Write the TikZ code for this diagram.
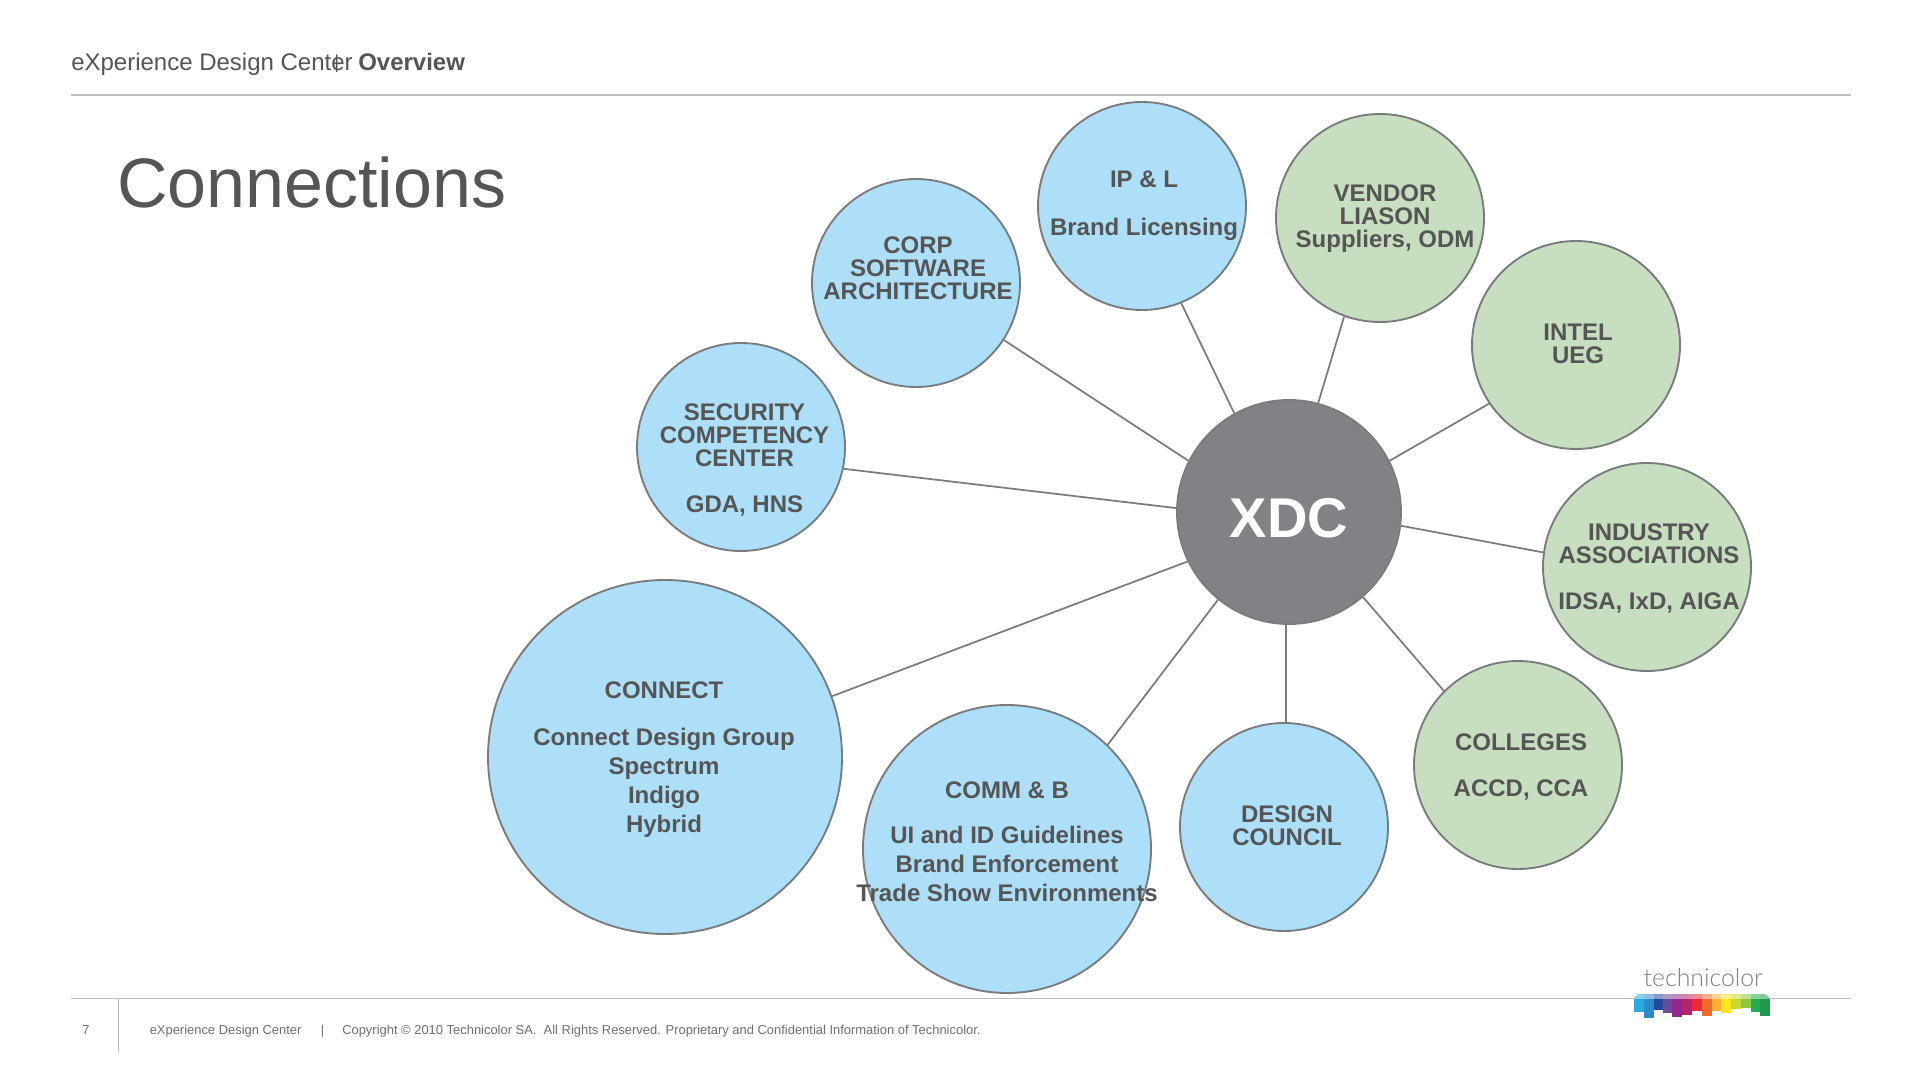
\documentclass[tikz,border=0pt]{standalone}
\usepackage{fontspec}
\setmainfont{Liberation Sans}
\newfontfamily\logofont{Lato Light}
\definecolor{ink}{HTML}{555555}
\definecolor{edgeg}{HTML}{797B7D}
\definecolor{bluefill}{HTML}{ADDFF8}
\definecolor{greenfill}{HTML}{C8DEC0}
\definecolor{darkfill}{HTML}{808285}
\definecolor{rule}{HTML}{BDBDBD}
\tikzset{
  bub/.style={circle,draw=edgeg,line width=1.4pt,inner sep=0pt,minimum size=#1*0.75pt},
  blueb/.style={bub=#1,fill=bluefill},
  greenb/.style={bub=#1,fill=greenfill},
  conn/.style={draw=edgeg,line width=1.3pt},
  capt/.style={align=center,text=ink,inner sep=0pt,font=\fontsize{18}{17.25}\selectfont\bfseries},
  capl/.style={align=center,text=ink,inner sep=0pt,font=\fontsize{18}{21.75}\selectfont\bfseries},
  plain/.style={inner sep=0pt,text=ink,anchor=base west},
  foot/.style={inner sep=0pt,text=ink!85,anchor=base west,font=\fontsize{9.7}{11}\selectfont},
}
\begin{document}
\begin{tikzpicture}[x=0.75pt,y=-0.75pt]
\useasboundingbox (0,0) rectangle (1920,1080);
\fill[white] (0,0) rectangle (1920,1080);
% header / footer
\coordinate (hl) at (71,95); \coordinate (hr) at (1851,95);
\draw[rule,line width=1.3pt] (hl) -- (hr);
\coordinate (fl) at (71,998.5); \coordinate (fr) at (1851,998.5);
\draw[rule,line width=1pt] (fl) -- (fr);
\coordinate (vt) at (118.5,998.5); \coordinate (vb) at (118.5,1052);
\draw[rule,line width=1pt] (vt) -- (vb);
\node[plain,font=\fontsize{18}{20}\selectfont] (head) at (71,71) {eXperience Design Center};
\node[plain,font=\fontsize{14}{14}\selectfont] (headtick) at (334,68.5) {|};
\node[plain,font=\fontsize{18}{20}\selectfont\bfseries] (head2) at (358,71) {Overview};
\node[plain,font=\fontsize{52.5}{56}\selectfont] (title) at (117,207.5) {Connections};
\node[foot] (pg) at (82,1034) {7};
\node[foot] (f1) at (149.5,1034) {eXperience Design Center};
\node[foot] (f2) at (320.5,1034) {|};
\node[foot] (f3) at (342,1034) {Copyright © 2010 Technicolor SA.\ \ All Rights Reserved. Proprietary and Confidential Information of Technicolor.};
% circles
\node[bub=224,fill=darkfill] (xdc) at (1289,512) {};
\node[blueb=208] (ipl) at (1142,206) {};
\node[greenb=208] (vendor) at (1380,218) {};
\node[blueb=208] (corp) at (916,283) {};
\node[greenb=208] (intel) at (1576,345) {};
\node[blueb=208] (sec) at (741,447) {};
\node[greenb=208] (ind) at (1647,567) {};
\node[greenb=208] (coll) at (1518,765) {};
\node[blueb=208] (design) at (1284,827) {};
\node[blueb=288] (comm) at (1007,849) {};
\node[blueb=354] (connect) at (665,757) {};
% connectors
\draw[conn] (xdc.119.6) -- (ipl.-68.7);
\draw[conn] (xdc.75.4) -- (vendor.-110.3);
\draw[conn] (xdc.153.9) -- (corp.-33.1);
\draw[conn] (xdc.27.5) -- (intel.-146.2);
\draw[conn] (xdc.178.1) -- (sec.-12.7);
\draw[conn] (xdc.-7.5) -- (ind.172.6);
\draw[conn] (xdc.-49.6) -- (coll.135.5);
\draw[conn] (design.89) -- (design.89 |- xdc.south);
\draw[conn] (xdc.-129.5) -- (comm.46.7);
\draw[conn] (xdc.-154.7) -- (connect.20.6);
% texts
\node[inner sep=0pt,text=white,font=\fontsize{42}{46}\selectfont\bfseries] (txdc) at (1289,518) {XDC};
\node[capt] (tipl) at (1144,205.5) {IP \& L\\[19pt]Brand Licensing};
\node[capt] (tvendor) at (1385,219) {VENDOR\\LIASON\\Suppliers, ODM};
\node[capt] (tcorp) at (918,268) {CORP\\SOFTWARE\\ARCHITECTURE};
\node[capt] (tintel) at (1578,343.5) {INTEL\\UEG};
\node[capt] (tsec) at (744.5,459.7) {SECURITY\\COMPETENCY\\CENTER\\[17.25pt]GDA, HNS};
\node[capt] (tind) at (1649,568.2) {INDUSTRY\\ASSOCIATIONS\\[17.25pt]IDSA, IxD, AIGA};
\node[capt] (tcoll) at (1521,767) {COLLEGES\\[17.25pt]ACCD, CCA};
\node[capt] (tdesign) at (1287,826) {DESIGN\\COUNCIL};
\node[capl] (tcomm) at (1007,842) {COMM \& B\\[12.2pt]UI and ID Guidelines\\Brand Enforcement\\Trade Show Environments};
\node[capl] (tconnect) at (664,759.5) {CONNECT\\[13.3pt]Connect Design Group\\Spectrum\\Indigo\\Hybrid};
% logo
\begin{scope}[shift={(1560,940)},x=0.25pt,y=-0.25pt]
\foreach \xa/\xb/\yb/\col in {222/252/215/29ABE2,252/282/233/2B8CCB,282/310/210/27479B,310/337/218/6A4A9C,337/367/232/92278F,367/397/226/B3246B,397/426/214/ED2939,426/456/227/F26A2E,456/484/212/FBB034,484/514/220/FFE81A,514/544/207/C4D82E,544/573/204/8DC63F,573/601/215/22B04F,601/629/227/1F9950}{
  \definecolor{barc}{HTML}{\col}
  \fill[barc] (\xa,176) rectangle (\xb,\yb);
  \fill[barc!55] (\xa,162) rectangle (\xb,176);
}
\fill[white] (220,175.5) -- (236,160) -- (220,160) -- cycle;
\fill[white] (631,175.5) -- (615,160) -- (631,160) -- cycle;
\node[inner sep=0pt,anchor=base west,text=black!50,font=\logofont\fontsize{18.6}{20}\selectfont] (logo) at (250,138) {technicolor};
\end{scope}
\end{tikzpicture}
\end{document}
